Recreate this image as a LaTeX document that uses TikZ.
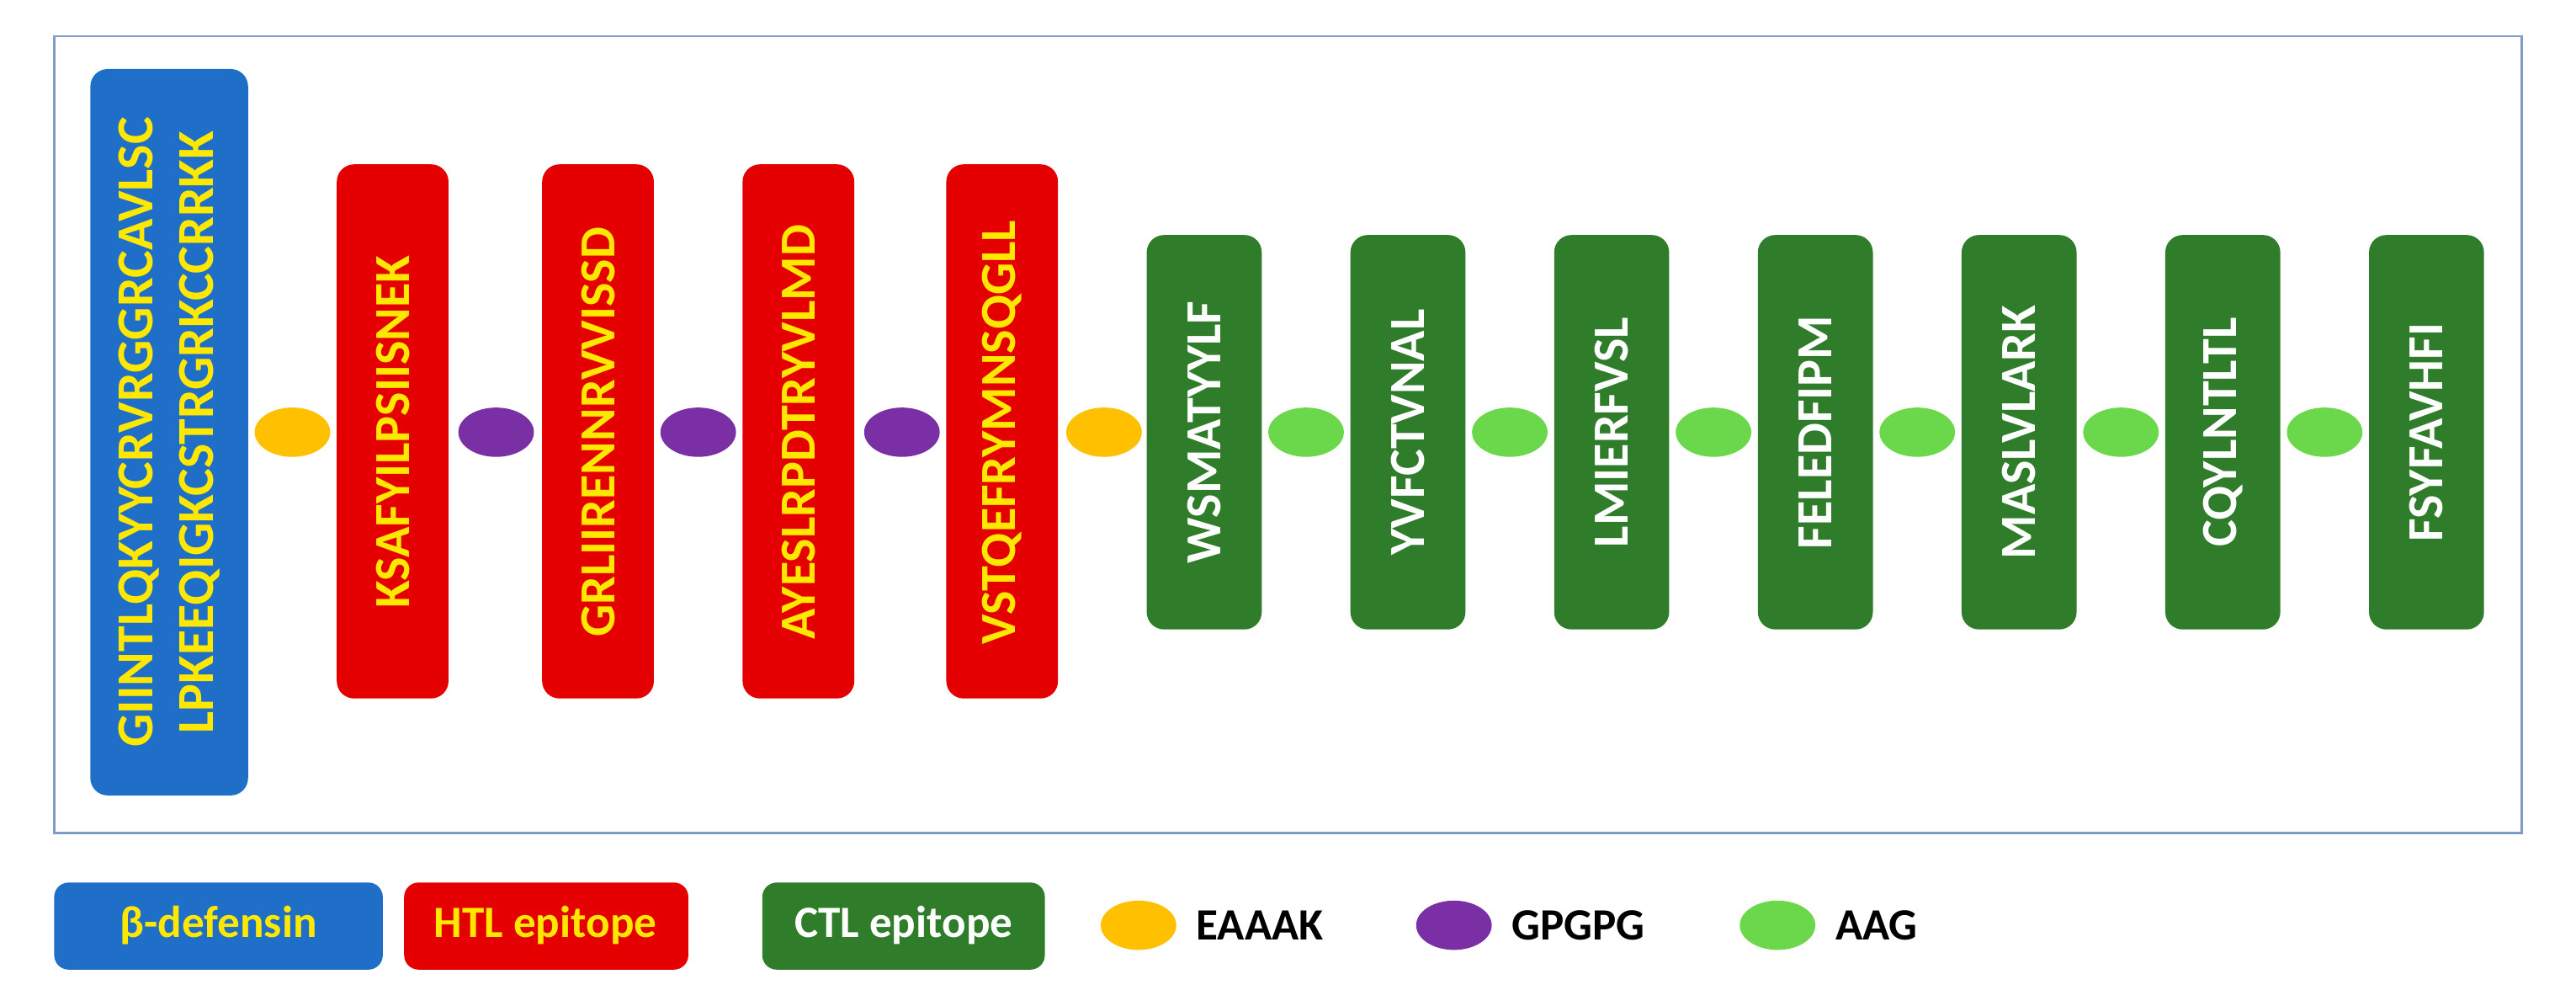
\documentclass[tikz,border=0pt]{standalone}
\usepackage{fontspec}
\setmainfont{Carlito}
\usetikzlibrary{shapes.geometric}
\definecolor{bbl}{HTML}{1F6FC9}
\definecolor{rd}{HTML}{E50000}
\definecolor{gr}{HTML}{2F7D2A}
\definecolor{yt}{HTML}{FFE800}
\definecolor{ye}{HTML}{FFC000}
\definecolor{pu}{HTML}{7A2FA5}
\definecolor{lg}{HTML}{6BD84B}
\definecolor{fr}{HTML}{7F9CC8}
\begin{document}
\begin{tikzpicture}[x=0.02cm,y=-0.02cm,
 bf/.style={font=\bfseries\fontsize{17.5}{20}\selectfont},
 lf/.style={font=\bfseries\fontsize{15.5}{18}\selectfont},
 ell/.style={ellipse,minimum width=0.92cm,minimum height=0.6cm,inner sep=0pt},
 leg/.style={lf,anchor=west,text=black}]
\useasboundingbox (0,0) rectangle (1568,612);
\draw[fr,line width=0.8pt] (33,22) rectangle (1535,507);
% blue
\fill[bbl,rounded corners=6pt] (55,42) rectangle (151,484);
\node[rotate=90,text=yt,bf,align=center,font=\bfseries\fontsize{18}{21}\selectfont] (b) at (103,263) {GIINTLQKYYCRVRGGRCAVLSC\\LPKEEQIGKCSTRGRKCCRRKK};
% red
\foreach \x/\t/\n in {205/KSAFYILPSIISNEK/r1,330/GRLIIRENNRVVISSD/r2,452/AYESLRPDTRYVLMD/r3,576/VSTQEFRYMNSQGLL/r4}{
 \fill[rd,rounded corners=6pt] (\x,100) rectangle ++(68,325);
 \node[rotate=90,text=yt,bf] (\n) at (\x+34,263) {\t};}
% green
\foreach \x/\t/\n in {698/WSMATYYLF/g1,822/YVFCTVNAL/g2,946/LMIERFVSL/g3,1070/FELEDFIPM/g4,1194/MASLVLARK/g5,1318/CQYLNTLTL/g6,1442/FSYFAVHFI/g7}{
 \fill[gr,rounded corners=6pt] (\x,143) rectangle ++(70,240);
 \node[rotate=90,text=white,bf] (\n) at (\x+35,263) {\t};}
% linkers
\foreach \x in {178,672}{\node[ell,fill=ye] at (\x,263) {};}
\foreach \x in {302,425,549}{\node[ell,fill=pu] at (\x,263) {};}
\foreach \x in {795,919,1043,1167,1291,1415}{\node[ell,fill=lg] at (\x,263) {};}
% legend
\fill[bbl,rounded corners=5pt] (33,537) rectangle (233,590);
\node[text=yt,lf] (lb) at (133,563) {β-defensin};
\fill[rd,rounded corners=5pt] (246,537) rectangle (419,590);
\node[text=yt,lf] (lr) at (332,563) {HTL epitope};
\fill[gr,rounded corners=5pt] (464,537) rectangle (636,590);
\node[text=white,lf] (lgr) at (550,563) {CTL epitope};
\node[ell,fill=ye] (e1) at (693,563) {};
\node[leg] at (722,563) {EAAAK};
\node[ell,fill=pu] (e2) at (885,563) {};
\node[leg] at (914,563) {GPGPG};
\node[ell,fill=lg] (e3) at (1082,563) {};
\node[leg] at (1111,563) {AAG};
\end{tikzpicture}
\end{document}
